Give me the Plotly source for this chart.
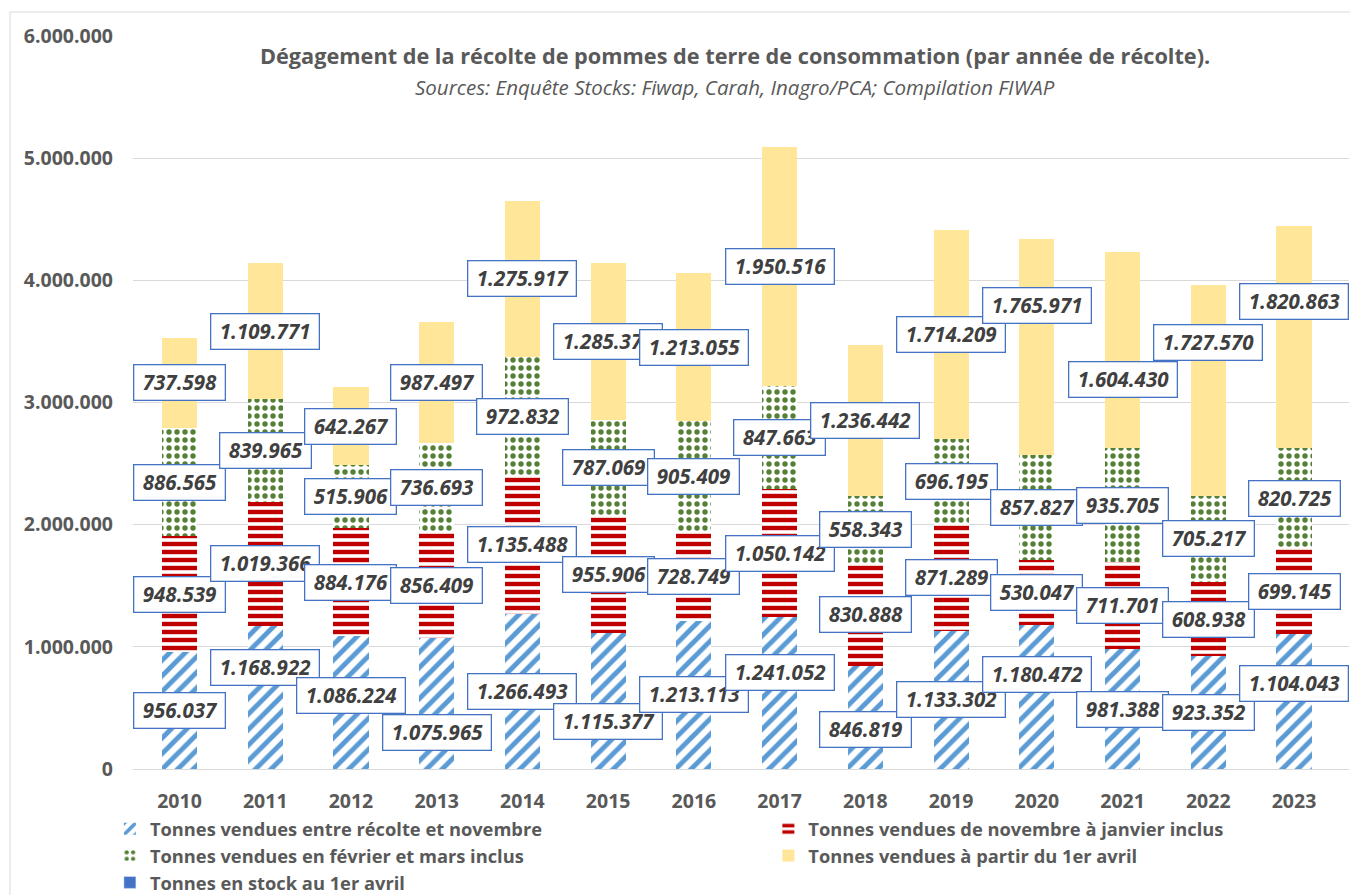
import plotly.graph_objects as go

years = ["2010", "2011", "2012", "2013", "2014", "2015", "2016",
         "2017", "2018", "2019", "2020", "2021", "2022", "2023"]

sold_harvest_nov = [956037, 1168922, 1086224, 1075965, 1266493, 1115377, 1213113,
                    1241052, 846819, 1133302, 1180472, 981388, 923352, 1104043]
sold_nov_jan = [948539, 1019366, 884176, 856409, 1135488, 955906, 728749,
                1050142, 830888, 871289, 530047, 711701, 608938, 699145]
sold_feb_mar = [886565, 839965, 515906, 736693, 972832, 787069, 905409,
                847663, 558343, 696195, 857827, 935705, 705217, 820725]
sold_from_april = [737598, 1109771, 642267, 987497, 1275917, 1285375, 1213055,
                   1950516, 1236442, 1714209, 1765971, 1604430, 1727570, 1820863]

series_names = [
    "Tonnes vendues entre récolte et novembre",
    "Tonnes vendues de novembre à janvier inclus",
    "Tonnes vendues en février et mars inclus",
    "Tonnes vendues à partir du 1er avril",
    "Tonnes en stock au 1er avril",
]

title_text = "Dégagement de la récolte de pommes de terre de consommation (par année de récolte)."
subtitle_text = "Sources: Enquête Stocks: Fiwap, Carah, Inagro/PCA; Compilation FIWAP"

# styling: vertical nudges (px, up positive) of data labels, as placed in the picture
blue_label_shift = [0, 30, 7, -29, 0, -21, 0, 21, -12, 0, 22, 0, 0, 18]
yellow_label_shift = [0, 0, 0, 0, 0, 0, 0, 0, 0, 0, 42, -30, 48, 36]

GRAY = "#595959"
FONT = "Open Sans"

# page body has an 8px margin, so the figure is drawn 8px in from the window edge
W, H = 1350, 887
ML, MT, PW, PH = 125, 28, 1216, 733

fig = go.Figure()

patterns = [
    dict(shape="/", fgcolor="#5B9BD5", bgcolor="white", size=11, solidity=0.45, fillmode="replace"),
    dict(shape="-", fgcolor="#C00000", bgcolor="white", size=8, solidity=0.55, fillmode="replace"),
    dict(shape=".", fgcolor="#548235", bgcolor="white", size=8, solidity=0.35, fillmode="replace"),
]
colors = ["#5B9BD5", "#C00000", "#548235", "#FFE699"]
data_series = [sold_harvest_nov, sold_nov_jan, sold_feb_mar, sold_from_april]
legend_of = ["legend", "legend2", "legend", "legend2"]

for i, vals in enumerate(data_series):
    marker = dict(color=colors[i] if i == 3 else "white", line=dict(width=0))
    if i < 3:
        marker["pattern"] = patterns[i]
    fig.add_trace(go.Bar(x=years, y=vals, name=series_names[i], marker=marker,
                         width=0.41, hoverinfo="y+name", legend=legend_of[i]))

fig.add_trace(go.Bar(x=years, y=[None] * len(years), name=series_names[4],
                     marker=dict(color="#4472C4"), width=0.41, legend="legend"))


def fmt(v):
    return "\u2009\u200a" + f"{v:,}".replace(",", ".") + "\u2009\u200a"


annotations = []
for j, yr in enumerate(years):
    base = 0
    for i, vals in enumerate(data_series):
        v = vals[j]
        center = base + v / 2
        base += v
        shift = 0
        if i == 0:
            shift = blue_label_shift[j]
        elif i == 3:
            shift = yellow_label_shift[j]
        annotations.append(dict(
            x=j, y=center, xref="x", yref="y", text=fmt(v), showarrow=False,
            yshift=shift,
            font=dict(family=FONT, size=20.5, color="#404040", weight="bold", style="italic"),
            bgcolor="white", bordercolor="#4472C4", borderwidth=1.3, borderpad=3,
            xanchor="center", yanchor="middle",
        ))

annotations.append(dict(
    x=0.495, y=0.973, xref="paper", yref="paper", text="<b>" + title_text + "</b>",
    showarrow=False, font=dict(family=FONT, size=21.7, color=GRAY), xanchor="center", yanchor="middle"))
annotations.append(dict(
    x=0.495, y=0.930, xref="paper", yref="paper", text="<i>" + subtitle_text + "</i>",
    showarrow=False, font=dict(family=FONT, size=20.5, color=GRAY), xanchor="center", yanchor="middle"))

legend_font = dict(family=FONT, size=18.3, color=GRAY, weight="bold")

fig.update_layout(
    width=W, height=H,
    margin=dict(l=ML, r=W - ML - PW, t=MT, b=H - MT - PH, autoexpand=False),
    paper_bgcolor="white", plot_bgcolor="white",
    barmode="stack",
    separators=",.",
    annotations=annotations,
    showlegend=True,
    legend=dict(
        orientation="v", x=-0.019, y=-0.0565, xanchor="left", yanchor="top",
        traceorder="normal", font=legend_font, itemwidth=30, bgcolor="rgba(0,0,0,0)",
    ),
    legend2=dict(
        orientation="v", x=0.5225, y=-0.0565, xanchor="left", yanchor="top",
        traceorder="normal", font=legend_font, itemwidth=30, bgcolor="rgba(0,0,0,0)",
    ),
    xaxis=dict(
        type="category", showgrid=False, showline=True, linecolor="#D9D9D9", linewidth=1,
        ticks="", ticklabelstandoff=15, automargin=False,
        tickfont=dict(family=FONT, size=19.5, color=GRAY, weight="bold"),
    ),
    yaxis=dict(
        range=[0, 6000000], dtick=1000000, tickformat=",d",
        showgrid=True, gridcolor="#D9D9D9", gridwidth=1, zeroline=False,
        showline=False, ticks="", ticklabelstandoff=19, automargin=False,
        tickfont=dict(family=FONT, size=19.5, color=GRAY, weight="bold"),
    ),
    shapes=[dict(type="rect", xref="paper", yref="paper",
                 x0=(2 - ML) / PW, x1=(W + 20 - ML) / PW,
                 y0=(MT + PH - H - 20) / PH, y1=(MT + PH - 4) / PH,
                 line=dict(color="#D9D9D9", width=1), fillcolor="rgba(0,0,0,0)", layer="below")],
)

fig.write_html("out.html")
